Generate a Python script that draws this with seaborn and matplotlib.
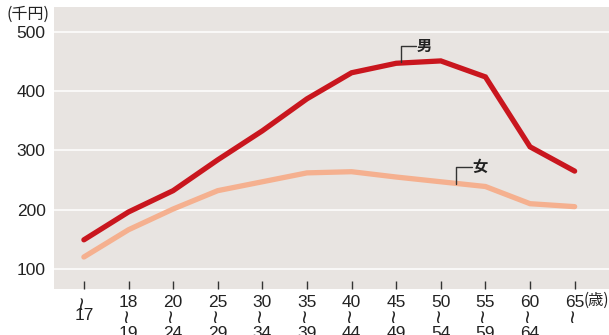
import numpy as np
import pandas as pd
import matplotlib
matplotlib.use("Agg")
import matplotlib.pyplot as plt
import seaborn as sns

# Age brackets (lower / upper bound) and monthly wages (thousand yen)
age_from = ["", "18", "20", "25", "30", "35", "40", "45", "50", "55", "60", "65"]
age_to = ["17", "19", "24", "29", "34", "39", "44", "49", "54", "59", "64", ""]
male = [149, 196, 232, 284, 333, 387, 431, 447, 451, 424, 306, 265]
female = [120, 166, 201, 232, 247, 262, 264, 255, 247, 239, 210, 205]
series_names = ["男", "女"]
y_ticks = [100, 200, 300, 400, 500]

sns.set_theme(style="white")
plt.rcParams["font.family"] = ["Liberation Sans", "DejaVu Sans", "Noto Sans CJK JP"]

n = len(age_from)
df = pd.DataFrame({
    "pos": list(range(n)) * 2,
    "wage": male + female,
    "sex": [series_names[0]] * n + [series_names[1]] * n,
})

fig = plt.figure(figsize=(6.09, 3.35), dpi=100)
ax = fig.add_axes([54 / 609, 46 / 335, 555 / 609, 282 / 335])
ax.set_facecolor("#e8e4e1")

palette = {"男": "#c9161e", "女": "#f5b08f"}
sns.lineplot(data=df, x="pos", y="wage", hue="sex", palette=palette,
             linewidth=3.8, legend=False, ax=ax, solid_capstyle="round",
             solid_joinstyle="miter", zorder=3)

ax.set_xlim(-0.67, 11.77)
ax.set_ylim(66, 542)
ax.set_yticks(y_ticks)
ax.yaxis.grid(True, color="white", linewidth=1.1)
ax.set_axisbelow(True)
for s in ax.spines.values():
    s.set_visible(False)

ax.set_xticks(range(n))
ax.set_xticklabels([""] * n)
ax.tick_params(axis="x", direction="in", length=6, width=1, color="#333333",
               bottom=True)
ax.tick_params(axis="y", length=0, pad=6, labelsize=12.5, labelcolor="#222222")
ax.set_xlabel("")
ax.set_ylabel("")

# Age bracket labels: lower bound, vertical wave, upper bound stacked under each tick
txt = "#222222"
row_off = [-9.6, -19.0, -32.0]  # points below the plot area
for i, (lo, hi) in enumerate(zip(age_from, age_to)):
    rows = []
    if lo:
        rows.append(("num", lo))
    rows.append(("wave", "~"))
    if hi:
        rows.append(("num", hi))
    for r, (kind, s) in enumerate(rows):
        if kind == "num":
            ax.annotate(s, xy=(i, 0), xycoords=("data", "axes fraction"),
                        xytext=(0, row_off[r]), textcoords="offset points",
                        ha="center", va="center", fontsize=12.5, color=txt,
                        annotation_clip=False)
        else:
            ax.annotate(s, xy=(i, 0), xycoords=("data", "axes fraction"),
                        xytext=(0, row_off[r]), textcoords="offset points",
                        ha="center", va="center", fontsize=17, color=txt,
                        rotation=90, annotation_clip=False)

# Series labels with leader lines
lead = "#333333"
cjk = ["Noto Sans CJK JP", "DejaVu Sans"]
mx, my0, my1 = 7.1, 449, 476
ax.plot([mx, mx, mx + 0.34], [my0, my1, my1], color=lead, lw=1, zorder=4)
ax.text(mx + 0.36, my1, series_names[0], ha="left", va="center", fontsize=11,
        fontweight="bold", family=cjk, color=txt)
fx, fy0, fy1 = 8.35, 244, 272
ax.plot([fx, fx, fx + 0.34], [fy0, fy1, fy1], color=lead, lw=1, zorder=4)
ax.text(fx + 0.36, fy1, series_names[1], ha="left", va="center", fontsize=11,
        fontweight="bold", family=cjk, color=txt)

# Unit labels
fig.text(7 / 609, 1 - 14 / 335, "(千円)", ha="left", va="center", fontsize=11.5,
         family=cjk, color=txt)
fig.text(584 / 609, 1 - 300 / 335, "(歳)", ha="left", va="center", fontsize=11,
         family=cjk, color=txt)

fig.savefig("out.png", dpi=100)
